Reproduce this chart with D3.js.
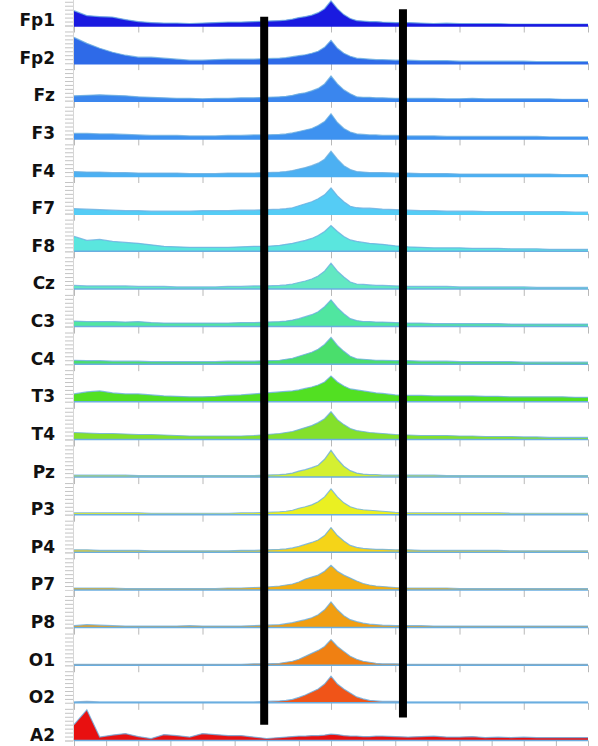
<!DOCTYPE html>
<html>
<head>
<meta charset="utf-8">
<script src="https://cdn.jsdelivr.net/npm/d3@7"></script>
<style>
  html, body { margin: 0; padding: 0; background: #fff; }
  svg { display: block; }
</style>
</head>
<body>
<div id="chart"></div>
<script>
// channel names, top to bottom
const channels = ["Fp1","Fp2","Fz","F3","F4","F7","F8","Cz","C3","C4","T3","T4","Pz","P3","P4","P7","P8","O1","O2","A2"];

// fill colour per channel (jet-like ramp)
const colors = ["#1a1ae0","#2e6ae8","#3a86ee","#3e92f0","#4cb0f2","#55ccf5","#5ae6de","#62e8c2","#50e6a0","#4ade6c",
                "#52e022","#84e02c","#d4f032","#eaf022","#f5d418","#f3ae12","#f19e12","#f08012","#f05418","#e81010"];

// frequency grid (Hz), finer around the alpha peak
const freqs = [0,0.5,1,1.5,2,2.5,3,3.5,4,4.5,5,5.5,6,6.5,7,7.5,8,
               8.25,8.5,8.75,9,9.25,9.5,9.75,10,10.25,10.5,10.75,11,11.25,11.5,11.75,12,
               12.5,13,13.5,14,14.5,15,15.5,16,16.5,17,17.5,18,18.5,19,19.5,20];

// spectral power per channel
const fp1 = [15,10,9,8.5,6,4,3,2.5,2.5,2,2.5,3,3.5,3.5,4,4.5,5,
             5.5,6.5,8,9,10.5,13,17,25,17,11,7,5,4.5,4,4,3.5,
             3,3,2.5,2,2.5,2,2,2,2,1.5,1.5,1.5,1.5,1.5,1.5,1.5];
const fp2 = [26,20,15,11,8,6,6,5,4,3,3,3.5,4,4,4,4.5,5,
             5.5,6.5,7.5,8.5,10,12,16,23,15,10,7,5,4.5,4,3.5,3.5,
             3,3,2.5,2.5,2.5,2,2,2,2,2,2,1.5,1.5,1.5,1.5,1.5];
const fz  = [5,5.5,6,5.5,5,4,3.5,3,2.5,2.5,2,2.5,2.5,3,3,3.5,4,
             4.5,5.5,7,8,10,12.5,17,25,17,11,7,4,3.5,3.5,3,3,
             2.5,2.5,2.5,2.5,2,2,2.5,2,2,2,2,2,2,1.5,1.5,1.5];
const f3  = [5,5,4.5,4.5,4,3.5,3,3,3,2.5,2.5,2.5,3,3,3.5,3.5,4,
             4.5,5.5,7,8.5,10,13,17,25,16,10,6.5,4.5,4,3.5,3.5,3,
             3,2.5,2.5,2.5,2,2,2,2,2,2,2,2,1.5,1.5,1.5,1.5];
const f4  = [4.5,4,4,3.5,3.5,3,3,3,3,2.5,2.5,2.5,3,3,3,3.5,4,
             4.5,5.5,7,8.5,10.5,13,17,25,17,10.5,6.5,4.5,4,3.5,3.5,3.5,
             3,3,2.5,2.5,2.5,2,2,2,2,2,2,2,2,1.5,1.5,1.5];
const f7  = [5,4.5,4,3.5,3,3,2.5,2.5,2.5,2.5,3,3,3,3.5,3.5,4,4.5,
             5,6,8,10,12,15,19,26,18,12,7.5,6,5.5,5.5,5,4.5,
             4,3.5,3,3,2.5,2.5,2.5,2,2,2,2,2,2,2,1.5,1.5];
const f8  = [15,11,12,10,9,8,6.5,5,4.5,4,4,4,4,4.5,5,5,6,
             7,8,9.5,11,13,16,20,26,20,15,11.5,10,9,8,7.5,7,
             5.5,4.5,4,3.5,3.5,3.5,3,3,3,2.5,2.5,2.5,2,2,2,2];
const cz  = [3.5,3,3,3,3,2.5,2.5,2.5,2,2,2,2,2.5,2.5,3,3,3.5,
             4,5,6.5,8,10,13,18,26,18,12,7,5,4.5,4,3.5,3.5,
             3,2.5,2.5,2.5,2.5,2,2,2,2,2,2,1.5,1.5,1.5,1.5,1.5];
const c3  = [5.5,5,5,5,4.5,5,4,3.5,3.5,3.5,3.5,3.5,3.5,4,4,4.5,5,
             5.5,6.5,8,10,12,15,20,27,19,13,8,6,5,5,4.5,4.5,
             4,3.5,3.5,3,3,3,3,3,3,2.5,2.5,2.5,2.5,2.5,2.5,2.5];
const c4  = [4,3.5,3.5,3,3,3,2.5,2.5,2.5,2.5,2.5,2.5,3,3,3,3.5,4,
             5,6,8,10,12,15,20,27,19,13,8,5.5,5,4.5,4,4,
             3.5,3.5,3,3,3,2.5,2.5,2.5,2.5,2.5,2,2,2,2,2,2];
const t3  = [8,10,11,9,8,8,7,6,5.5,5,5,5.5,6.5,7,8,9,10,
             10.5,11,12,13.5,15,17,20,26,20,16,13,12,11,10,9,8.5,
             7,6.5,6.5,6,6,6,6,5.5,5.5,5,5,5,5,5,4.5,4.5];
const t4  = [7,6.5,6,6,5.5,5,5,4.5,4,3.5,3.5,3.5,3.5,3.5,4,5,6,
             7,8,10,12,14,17,21,28,20,15,11,9,8,7,6.5,6,
             5,4.5,4,4,4,3.5,3.5,3,3,3,2.5,2.5,2,2,2,2];
const pz  = [2,2,2,2,2,1.5,1.5,1.5,1.5,1.5,1.5,1.5,1.5,1.5,1.5,2,2.5,
             3,4,6,7.5,9.5,12,18,27,18,11,6.5,4,3,2.5,2.5,2,
             2,2,2,2,1.5,1.5,1.5,1.5,1.5,1.5,1.5,1.5,1.5,1.5,1.5,1.5];
const p3  = [2,2,2,2,2,2,1.5,1.5,1.5,1.5,1.5,1.5,1.5,2,2,2.5,3,
             3.5,4.5,6.5,8,10,13,18,26,18,12,8,6,5,4.5,4,3.5,
             2.5,2,2,2,2,2,2,2,2,1.5,1.5,1.5,1.5,1.5,1.5,1.5];
const p4  = [2.5,2.5,2,2,2,2,1.5,1.5,1.5,1.5,1.5,1.5,1.5,2,2,2.5,3,
             3.5,4.5,6,8,10,12.5,17,25,17,11.5,7,5,4,3.5,3,3,
             2.5,2.5,2,2,2,2,2,2,2,1.5,1.5,1.5,1.5,1.5,1.5,1.5];
const p7  = [2,2,2,2,1.5,1.5,1.5,1.5,1.5,1.5,1.5,1.5,2,2,2.5,3,4,
             5,6,8,11,13,15,19,25,19,15,12,9,6.5,5,4,3.5,
             2.5,2,2,2,2,1.5,1.5,1.5,1.5,1.5,1.5,1.5,1.5,1.5,1.5,1.5];
const p8  = [2,3,2.5,2,1.5,1.5,1.5,1.5,1.5,2,1.5,1.5,1.5,1.5,2,2.5,3,
             4,5,6.5,8,10,13,18,26,18,12,8,6,4.5,3.5,3,2.5,
             2,2,2,1.5,1.5,1.5,1.5,1.5,1.5,1.5,1.5,1.5,1.5,1.5,1.5,1.5];
const o1  = [1,1,1,1,1,1,1,1,1,1,1,1,1,1,1.5,1.5,2,
             3,4,6,9,12,15,19,26,19,14,9,6,4,3,2,1.5,
             1.5,1,1,1,1,1,1,1,1,1,1,1,1,1,1,1];
const o2  = [1,1.5,1,1,1,1,1,1,1,1,1,1,1,1,1,1.5,2,
             2.5,3.5,5.5,8,11,14,19,27,19,14,10,6,4,2.5,2,1.5,
             1.5,1,1,1,1,1,1,1,1,1,1,1,1,1,1,1];
const a2  = [16,31,3.5,5.5,7,4,2,6,5,3.5,7,6,5,5,3.5,2,3,
             3.5,4,4.5,4.5,5,5,5.5,6.5,6,5,4.5,4.5,4,4,4.5,4.5,
             4,3.5,4,4.5,3.5,3.5,4,3,3.5,3,3.5,3,3,3,3,3];

const series = [fp1,fp2,fz,f3,f4,f7,f8,cz,c3,c4,t3,t4,pz,p3,p4,p7,p8,o1,o2,a2];

// axis ticks
const xTicks = [0,2.5,5,7.5,10,12.5,15,17.5,20];
const a2Ticks = [0,1.25,2.5,3.75,5,6.25,7.5,8.75,10,11.25,12.5,13.75,15,16.25,17.5,18.75,20];
const yTicks = [0,4,8,12,16,20,24,28,32];

// black band markers: frequency and the row span they cover
const markerHz = [7.4, 12.8];
const markerFrom = [-0.23, -0.43];
const markerTo = [18.58, 18.39];

const width = 598, height = 746;

const svg = d3.select("#chart").append("svg")
    .attr("width", width)
    .attr("height", height)
    .style("background", "#fff");

const x = d3.scaleLinear().domain([0, 20]).range([74, 588]);
const row = d3.scaleLinear().domain([0, channels.length - 1]).range([25.5, 740.5]);
const y = d3.scaleLinear().domain([0, 38]).range([0, -37.6]);

const area = d3.area()
    .x((d, i) => x(freqs[i]))
    .y0(0)
    .y1(d => y(d));

const outline = d3.line()
    .x((d, i) => x(freqs[i]))
    .y(d => y(d));

channels.forEach((name, i) => {
    const g = svg.append("g")
        .attr("transform", `translate(0, ${row(i)})`);

    // left axis with small ticks
    const yAxis = g.append("g")
        .attr("transform", `translate(${x(0) - 1}, 0)`)
        .call(d3.axisLeft(y).tickValues(yTicks).tickSize(8).tickFormat(""));
    yAxis.select(".domain").attr("stroke", "#d6d6d6");
    yAxis.selectAll(".tick line").attr("stroke", "#c4c4c4");

    // bottom ticks
    const xAxis = g.append("g")
        .call(d3.axisBottom(x).tickValues(name === "A2" ? a2Ticks : xTicks).tickSize(7).tickFormat(""));
    xAxis.select(".domain").remove();
    xAxis.selectAll(".tick line").attr("stroke", "#b8b8b8");

    g.append("path")
        .datum(series[i])
        .attr("d", area)
        .attr("fill", colors[i]);

    g.append("path")
        .datum(series[i])
        .attr("d", outline)
        .attr("fill", "none")
        .attr("stroke", "#6aaee0")
        .attr("stroke-opacity", 0.8)
        .attr("stroke-width", 1.2);

    g.append("line")
        .attr("x1", x(0)).attr("x2", x(20))
        .attr("y1", 0).attr("y2", 0)
        .attr("stroke", i < 6 ? colors[i] : "#6aaee0")
        .attr("stroke-width", i < 6 ? 2.5 : 1.5);

    g.append("text")
        .attr("x", 55)
        .attr("y", 0.5)
        .attr("text-anchor", "end")
        .attr("font-family", "DejaVu Sans, sans-serif")
        .attr("font-weight", "bold")
        .attr("font-size", "17px")
        .attr("fill", "#111")
        .text(name);
});

// the two black markers
markerHz.forEach((hz, k) => {
    svg.append("line")
        .attr("x1", x(hz)).attr("x2", x(hz))
        .attr("y1", row(markerFrom[k]))
        .attr("y2", row(markerTo[k]))
        .attr("stroke", "#000")
        .attr("stroke-width", 8);
});
</script>
</body>
</html>
